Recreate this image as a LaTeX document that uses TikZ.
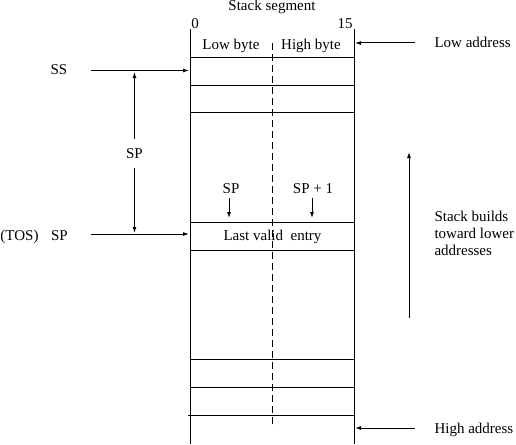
\documentclass[tikz,border=0pt]{standalone}
\usepackage{fontspec}
\setmainfont{Liberation Serif}
\usetikzlibrary{arrows.meta}
\begin{document}
\begin{tikzpicture}[x=1pt,y=-1pt,line width=1pt,
    >={Latex[length=6pt,width=4pt]},
    every node/.style={font=\fontsize{15}{17}\selectfont,inner sep=0pt}]
  \useasboundingbox (0,0) rectangle (516,444);
  % the stack segment
  \draw (190,29) -- (190,444);
  \draw (354,29) -- (354,444);
  \draw[dash pattern=on 7pt off 4pt] (272,43) -- (272,428);
  \foreach \y in {57.3,85.3,112.3,222.3,250,359.3,387.3}
    \draw (190,\y) -- (354,\y);
  \draw (188,415.3) -- (354,415.3);
  % labels
  \draw
    (272,11) node[anchor=base] (seg){Stack segment}
    (195,29) node[anchor=base] (bit0){0}
    (345,29) node[anchor=base] (bit15){15}
    (231,49) node[anchor=base] (lowb){Low byte}
    (311,49) node[anchor=base] (highb){High byte}
    (434,48) node[anchor=base west] (lowaddr){Low address}
    (434,433) node[anchor=base west] (highaddr){High address}
    (59,74.5) node[anchor=base] (ss){SS}
    (59.5,240) node[anchor=base] (tos){SP}
    (19.5,240) node[anchor=base] (tostag){(TOS)}
    (134.5,158) node[anchor=base,inner ysep=9pt] (spmid){SP}
    (231,193) node[anchor=base] (splo){SP}
    (313,193) node[anchor=base] (sphi){SP + 1}
    (272.5,240) node[anchor=base] (last){Last valid\ \ entry}
    (434,233) node[anchor=west,align=left] (grow){Stack builds\\toward lower\\addresses};
  \coordinate (lowfrom) at (415,43);
  \coordinate (lowto) at (355,43);
  \coordinate (highfrom) at (415,428);
  \coordinate (highto) at (355,428);
  \coordinate (ssfrom) at (91,70.5);
  \coordinate (ssto) at (189,70.5);
  \coordinate (tosfrom) at (91,234);
  \coordinate (tosto) at (189,234);
  \coordinate (spup) at (134.5,72);
  \coordinate (spdown) at (134.5,233);
  \coordinate (lotop) at (229,198);
  \coordinate (loarr) at (229,218);
  \coordinate (hitop) at (312,198);
  \coordinate (hiarr) at (312,218);
  \coordinate (upfrom) at (409,318);
  \coordinate (upto) at (409,152);
  % arrows
  \begin{scope}[->]
    \draw (lowfrom) to (lowto);
    \draw (highfrom) to (highto);
    \draw (ssfrom) to (ssto);
    \draw (tosfrom) to (tosto);
    \draw (spmid) to (spup);
    \draw (spmid) to (spdown);
    \draw (lotop) to (loarr);
    \draw (hitop) to (hiarr);
    \draw (upfrom) to (upto);
  \end{scope}
\end{tikzpicture}
\end{document}
